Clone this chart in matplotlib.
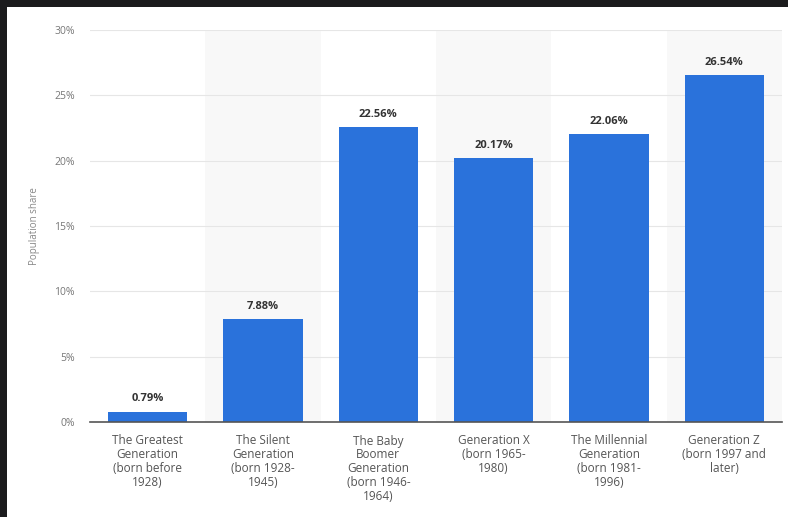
import matplotlib.pyplot as plt
from matplotlib.patches import Rectangle

plt.rcParams['font.family'] = ['Open Sans', 'DejaVu Sans']

# generation labels and population share (%)
generations = ['The Greatest\nGeneration\n(born before\n1928)',
               'The Silent\nGeneration\n(born 1928-\n1945)',
               'The Baby\nBoomer\nGeneration\n(born 1946-\n1964)',
               'Generation X\n(born 1965-\n1980)',
               'The Millennial\nGeneration\n(born 1981-\n1996)',
               'Generation Z\n(born 1997 and\nlater)']
shares = [0.79, 7.88, 22.56, 20.17, 22.06, 26.54]
y_ticks = [0, 5, 10, 15, 20, 25, 30]

fig = plt.figure(figsize=(7.88, 5.17), dpi=100, facecolor='#1b1b1d')
# white panel inside the dark frame
fig.patches.append(Rectangle((7 / 788, 0), 1, 1 - 7 / 517, transform=fig.transFigure,
                             facecolor='white', edgecolor='none', zorder=-1))

ax = fig.add_axes([90 / 788, 1 - 422 / 517, (782 - 90) / 788, (422 - 30) / 517])
ax.set_facecolor('none')

x = range(len(generations))
# alternating shaded bands
for i in x:
    if i % 2 == 1:
        ax.axvspan(i - 0.5, i + 0.5, color='#f8f8f8', zorder=0, lw=0)

ax.bar(x, shares, width=0.69, color='#2a72db', zorder=3)
for i, v in zip(x, shares):
    ax.text(i, v + 0.55, f'{v:.2f}%', ha='center', va='bottom', fontsize=8,
            fontweight='bold', color='#333333', zorder=4)

ax.set_xlim(-0.5, len(generations) - 0.5)
ax.set_ylim(0, 30)
ax.set_yticks(y_ticks)
ax.set_yticklabels([f'{t}%' for t in y_ticks], fontsize=7.5, color='#777777')
ax.yaxis.grid(True, color='#e6e6e6', lw=0.8, zorder=1)
ax.set_xticks(list(x))
ax.set_xticklabels(generations, fontsize=8.5, color='#555555', linespacing=1.1)
ax.tick_params(axis='both', length=0)
ax.tick_params(axis='x', pad=9)
ax.tick_params(axis='y', pad=11)
for s in ['top', 'right', 'left']:
    ax.spines[s].set_visible(False)
ax.spines['bottom'].set_color('#555555')
ax.spines['bottom'].set_linewidth(1.2)
ax.spines['bottom'].set_zorder(5)
ax.set_ylabel('Population share', fontsize=7, color='#888888', labelpad=10)

fig.savefig('out.png', dpi=100, facecolor=fig.get_facecolor())
